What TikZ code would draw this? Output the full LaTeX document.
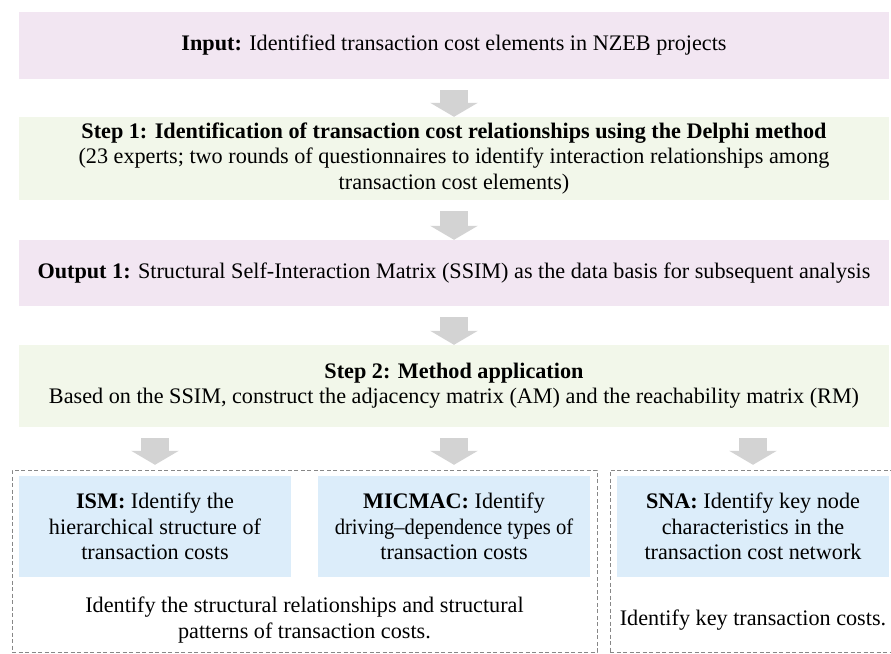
\documentclass[tikz,border=0pt]{standalone}
\usepackage{fontspec}
\setmainfont{Liberation Serif}
\usepackage{tikz}
\usetikzlibrary{arrows.meta}

\definecolor{pinkfill}{RGB}{242,230,242}
\definecolor{greenfill}{RGB}{242,247,234}
\definecolor{bluefill}{RGB}{220,237,250}
\definecolor{arrowgray}{RGB}{211,211,211}
\definecolor{dashgray}{RGB}{135,135,135}

\tikzset{
    txt/.style={font=\fontsize{22.2}{25.3}\selectfont, align=center, inner sep=0pt},
    bar/.style={txt, minimum width=870pt},
    pinkbar/.style={bar, fill=pinkfill},
    greenbar/.style={bar, fill=greenfill},
    bluebox/.style={txt, fill=bluefill, minimum width=272pt, minimum height=101pt},
    group/.style={draw=dashgray, dash pattern=on 4pt off 2.5pt, line width=0.9pt, inner sep=0pt},
    flow/.style={draw=arrowgray, line width=28pt, shorten <=11pt, -{Triangle[width=47pt, length=14pt]}}
}

\begin{document}
\begin{tikzpicture}[x=1pt, y=-1pt]
    \useasboundingbox (0,0) rectangle (891,653);
    \clip (0,0) rectangle (891,653);
    % Input
    \node[pinkbar, minimum height=67pt] (Input) at (454,45.5) {\textbf{Input:} Identified transaction cost elements in NZEB projects};
    % Step 1
    \node[greenbar, minimum height=83pt] (Step1) at (454,158.5) {\textbf{Step 1: Identification of transaction cost relationships using the Delphi method}\\(23 experts; two rounds of questionnaires to identify interaction relationships among\\transaction cost elements)};
    % Output 1
    \node[pinkbar, minimum height=66pt] (Output1) at (454,273) {\textbf{Output 1:} Structural Self-Interaction Matrix (SSIM) as the data basis for subsequent analysis};
    % Step 2
    \node[greenbar, minimum height=82pt] (Step2) at (454,386) {\textbf{Step 2: Method application}\\Based on the SSIM, construct the adjacency matrix (AM) and the reachability matrix (RM)};
    % Dashed groups
    \node[group, minimum width=585pt, minimum height=182pt] (LeftGroup) at (304.5,561) {};
    \node[group, minimum width=285pt, minimum height=182pt] (RightGroup) at (752.5,561) {};
    % Methods
    \node[bluebox] (ISM) at (155,526.5) {\textbf{ISM:} Identify the\\hierarchical structure of\\transaction costs};
    \node[bluebox] (MICMAC) at (454,526.5) {\textbf{MICMAC:} Identify\\\scalebox{0.93}[1]{driving--dependence types of}\\transaction costs};
    \node[bluebox] (SNA) at (753,526.5) {\textbf{SNA:} Identify key node\\characteristics in the\\transaction cost network};
    % Results
    \node[txt] (StructNote) at (304.5,620) {Identify the structural relationships and structural\\patterns of transaction costs.};
    \node[txt] (KeyNote) at (753,620) {Identify key transaction costs.};
    % Arrows
    \foreach \a/\b in {Input/Step1, Step1/Output1, Output1/Step2} {
        \draw[flow] (\a) -- (\b);
    }
    \foreach \m in {ISM, MICMAC, SNA} {
        \draw[flow, shorten >=11pt] (Step2.south -| \m.north) -- (\m.north);
    }
\end{tikzpicture}
\end{document}
